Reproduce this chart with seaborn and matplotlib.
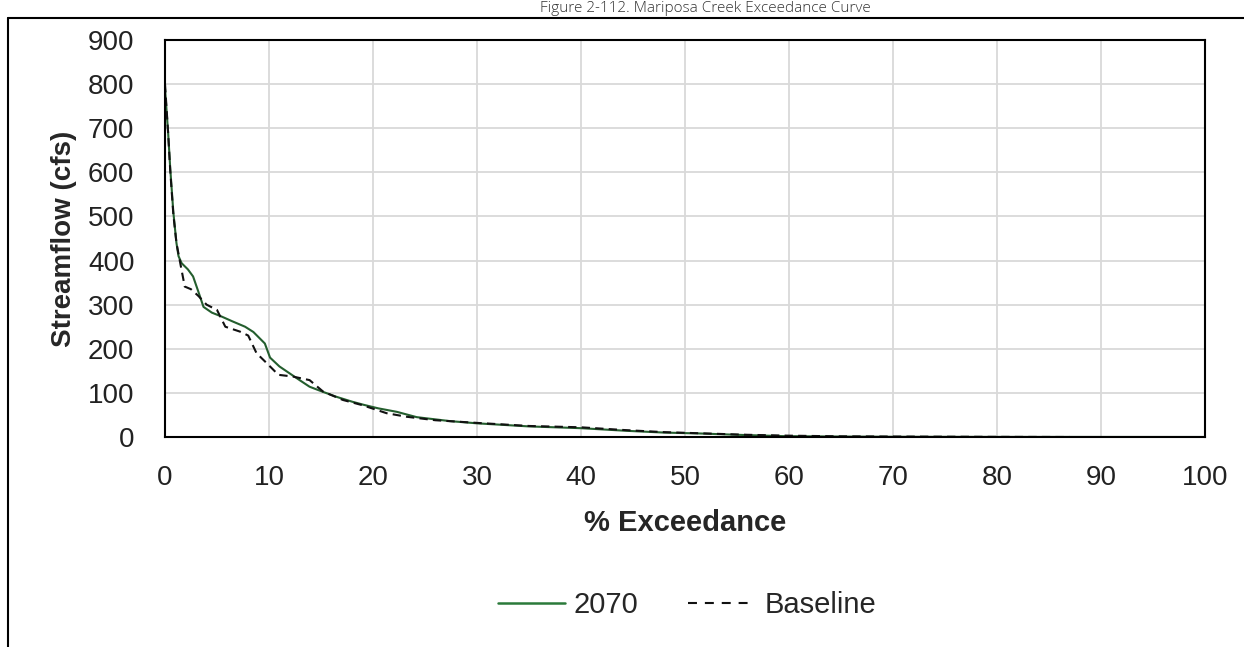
import matplotlib
matplotlib.use("Agg")
import matplotlib.pyplot as plt
from matplotlib.lines import Line2D
import seaborn as sns
import pandas as pd

# ---- data ----
x_2070 = [0, 0.15, 0.3, 0.5, 0.8, 1.1, 1.3, 1.6, 2.2, 2.7, 3.2, 3.7, 4.5, 5.45, 6.5, 7.7,
          8.5, 9.6, 10.1, 11, 12, 13, 13.9, 15, 16.5, 18, 19.1, 20.5, 22.3, 24.2, 27.4,
          30, 35, 40, 44.4, 48, 51.4, 55, 59.4, 62, 65, 70, 80, 90, 100]
q_2070 = [790, 740, 690, 610, 510, 440, 410, 394, 380, 364, 330, 295, 282, 273, 262, 250,
          238, 212, 180, 160, 144, 128, 114, 104, 91, 80, 73, 65, 57, 45, 36,
          31, 24, 20, 14, 10, 8, 5, 2, 1.5, 1, 0.5, 0.2, 0.1, 0]

x_base = [0, 0.15, 0.3, 0.5, 0.8, 1.1, 1.5, 1.9, 2.5, 3.2, 4.0, 5.0, 5.8, 7.2, 8.0, 8.8,
          9.8, 10.9, 12.3, 13.9, 15.2, 17.1, 19, 21.3, 23.2, 26, 30, 35, 40, 44, 48, 52,
          56, 60, 65, 70, 80, 87]
q_base = [800, 745, 690, 605, 505, 440, 390, 341, 335, 320, 300, 288, 250, 239, 230, 190,
          167, 141, 137, 129, 103, 84, 72, 54, 46, 38, 32, 25, 22, 16, 11, 8,
          5, 3, 1.5, 1, 0.3, 0]

series_names = ["2070", "Baseline"]
x_ticks = list(range(0, 101, 10))
y_ticks = list(range(0, 901, 100))
title_text = "Figure 2-112. Mariposa Creek Exceedance Curve"
x_label = "% Exceedance"
y_label = "Streamflow (cfs)"

df = pd.concat([
    pd.DataFrame({"x": x_2070, "q": q_2070, "series": series_names[0]}),
    pd.DataFrame({"x": x_base, "q": q_base, "series": series_names[1]}),
])

sns.set_theme(style="whitegrid")
plt.rcParams["font.family"] = ["Liberation Sans", "DejaVu Sans"]

fig = plt.figure(figsize=(12.44, 6.47), dpi=100)
ax = fig.add_axes([165 / 1244, 1 - 437 / 647, (1205 - 165) / 1244, (437 - 40) / 647])

palette = {"2070": "#245e2e", "Baseline": "#111111"}
sns.lineplot(data=df, x="x", y="q", hue="series", style="series",
             dashes={"2070": "", "Baseline": (4, 2.5)}, palette=palette,
             sort=False, estimator=None, linewidth=1.5, ax=ax, legend=False)

ax.set_xlim(0, 100)
ax.set_ylim(0, 900)
ax.set_xticks(x_ticks)
ax.set_yticks(y_ticks)
ax.grid(True, color="#d9d9d9", linewidth=1.3)
for s in ax.spines.values():
    s.set_color("black")
    s.set_linewidth(1.5)
ax.tick_params(axis="both", length=0, labelsize=20, colors="#222222")
ax.tick_params(axis="x", pad=20)
ax.tick_params(axis="y", pad=22)
ax.set_xlabel(x_label, fontsize=21, fontweight="bold", labelpad=13)
ax.set_ylabel(y_label, fontsize=20, fontweight="bold", labelpad=8)

handles = [Line2D([], [], color="#2b7a3a", linewidth=1.8),
           Line2D([], [], color=palette["Baseline"], linewidth=1.5, dashes=(4.3, 3.8))]
fig.legend(handles, series_names, loc="center", bbox_to_anchor=(687 / 1244, 1 - 605 / 647),
           ncol=2, frameon=False, fontsize=21, handlelength=2.3, columnspacing=1.7,
           handletextpad=0.3)

# page frame and figure title
fig.add_artist(Line2D([8 / 1244, 1], [1 - 18 / 647, 1 - 18 / 647], color="black", linewidth=1.5,
                      transform=fig.transFigure))
fig.add_artist(Line2D([8 / 1244, 8 / 1244], [0, 1 - 18 / 647], color="black", linewidth=1.5,
                      transform=fig.transFigure))
fig.text(705 / 1244, 1 - 9 / 647, title_text, ha="center", va="center", fontsize=11,
         color="#333333", family=["Open Sans", "DejaVu Sans"], fontweight="light")

fig.savefig("out.png", dpi=100, facecolor="white")
